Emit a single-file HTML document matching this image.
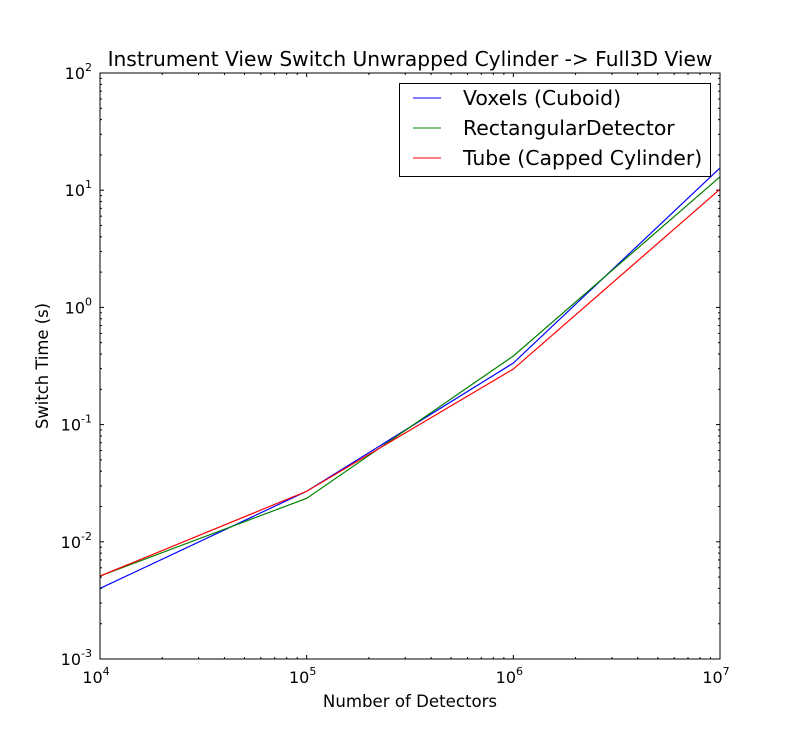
<!DOCTYPE html>
<html><head><meta charset="utf-8"><style>
body{margin:0;background:#fff;}
svg text{font-family:"DejaVu Sans","Liberation Sans",sans-serif;fill:#000;}
</style></head><body>
<svg id="chart" width="800" height="732" xmlns="http://www.w3.org/2000/svg">
<rect width="800" height="732" fill="#fff"/>
<text x="410" y="66" font-size="20.2" text-anchor="middle">Instrument View Switch Unwrapped Cylinder -&gt; Full3D View</text>
<text x="410" y="707" font-size="16.6" text-anchor="middle">Number of Detectors</text>
<text transform="translate(48,366) rotate(-90)" font-size="16.4" text-anchor="middle">Switch Time (s)</text>
<g id="ticks"></g>
<g id="series"></g>
<rect x="100" y="73" width="620" height="586" fill="none" stroke="#000" stroke-width="1"/>
<g>
<rect x="399.5" y="83.5" width="311" height="93" fill="#fff" stroke="#000"/>
<line x1="413" y1="98" x2="441" y2="98" stroke="#0000ff"/>
<text x="463" y="105" font-size="20.4">Voxels (Cuboid)</text>
<line x1="413" y1="128" x2="441" y2="128" stroke="#008000"/>
<text x="463" y="135" font-size="20.4">RectangularDetector</text>
<line x1="413" y1="158" x2="441" y2="158" stroke="#ff0000"/>
<text x="463" y="165" font-size="20.4">Tube (Capped Cylinder)</text>
</g>
</svg>
<script>
const xValues = [1e4, 1e5, 1e6, 1e7];
const voxels = [0.0040, 0.027, 0.335, 15.5];
const rectangular = [0.0051, 0.0235, 0.385, 13.0];
const tube = [0.0051, 0.027, 0.298, 10.2];
const xTickExps = [4, 5, 6, 7];
const yTickExps = [-3, -2, -1, 0, 1, 2];
const NS = "http://www.w3.org/2000/svg";
const L = 100, R = 720, T = 73, B = 659;
function xs(v){ return L + (Math.log10(v) - 4) / 3 * (R - L); }
function ys(v){ return B - (Math.log10(v) + 3) / 5 * (B - T); }
function mk(tag, attrs, parent){ const e = document.createElementNS(NS, tag); for (const k in attrs) e.setAttribute(k, attrs[k]); parent.appendChild(e); return e; }
const tg = document.getElementById('ticks');
function tick(x1,y1,x2,y2){ const l = mk('line',{x1,y1,x2,y2,stroke:'#000','stroke-width':1},tg);

 }
xTickExps.forEach((e,i)=>{
  const x = xs(Math.pow(10,e));
  tick(x,B,x,B-4); tick(x,T,x,T+4);
  const t = mk('text',{x:x-4,y:B+24,'font-size':16,'text-anchor':'middle'},tg);
  
  
  t.innerHTML = '10<tspan font-size="11" dy="-8">'+e+'</tspan>';
  if (i < xTickExps.length-1) for (let m=2;m<10;m++){ const xm = xs(m*Math.pow(10,e)); tick(xm,B,xm,B-2); tick(xm,T,xm,T+2); }
});
yTickExps.forEach((e,i)=>{
  const y = ys(Math.pow(10,e));
  tick(L,y,L+4,y); tick(R,y,R-4,y);
  const t = mk('text',{x:L-8,y:y+6,'font-size':16,'text-anchor':'end'},tg);
  
  
  t.innerHTML = '10<tspan font-size="11" dy="-8">'+e+'</tspan>';
  if (i < yTickExps.length-1) for (let m=2;m<10;m++){ const ym = ys(m*Math.pow(10,e)); tick(L,ym,L+2,ym); tick(R,ym,R-2,ym); }
});
const sg = document.getElementById('series');
[[voxels,'#0000ff','line-voxels'],[rectangular,'#008000','line-rectangular'],[tube,'#ff0000','line-tube']].forEach(([d,c,n])=>{
  const p = mk('polyline',{points:d.map((v,i)=>xs(xValues[i])+','+ys(v)).join(' '),fill:'none',stroke:c,'stroke-width':1.2},sg);
  
  
});
</script>
</body></html>
